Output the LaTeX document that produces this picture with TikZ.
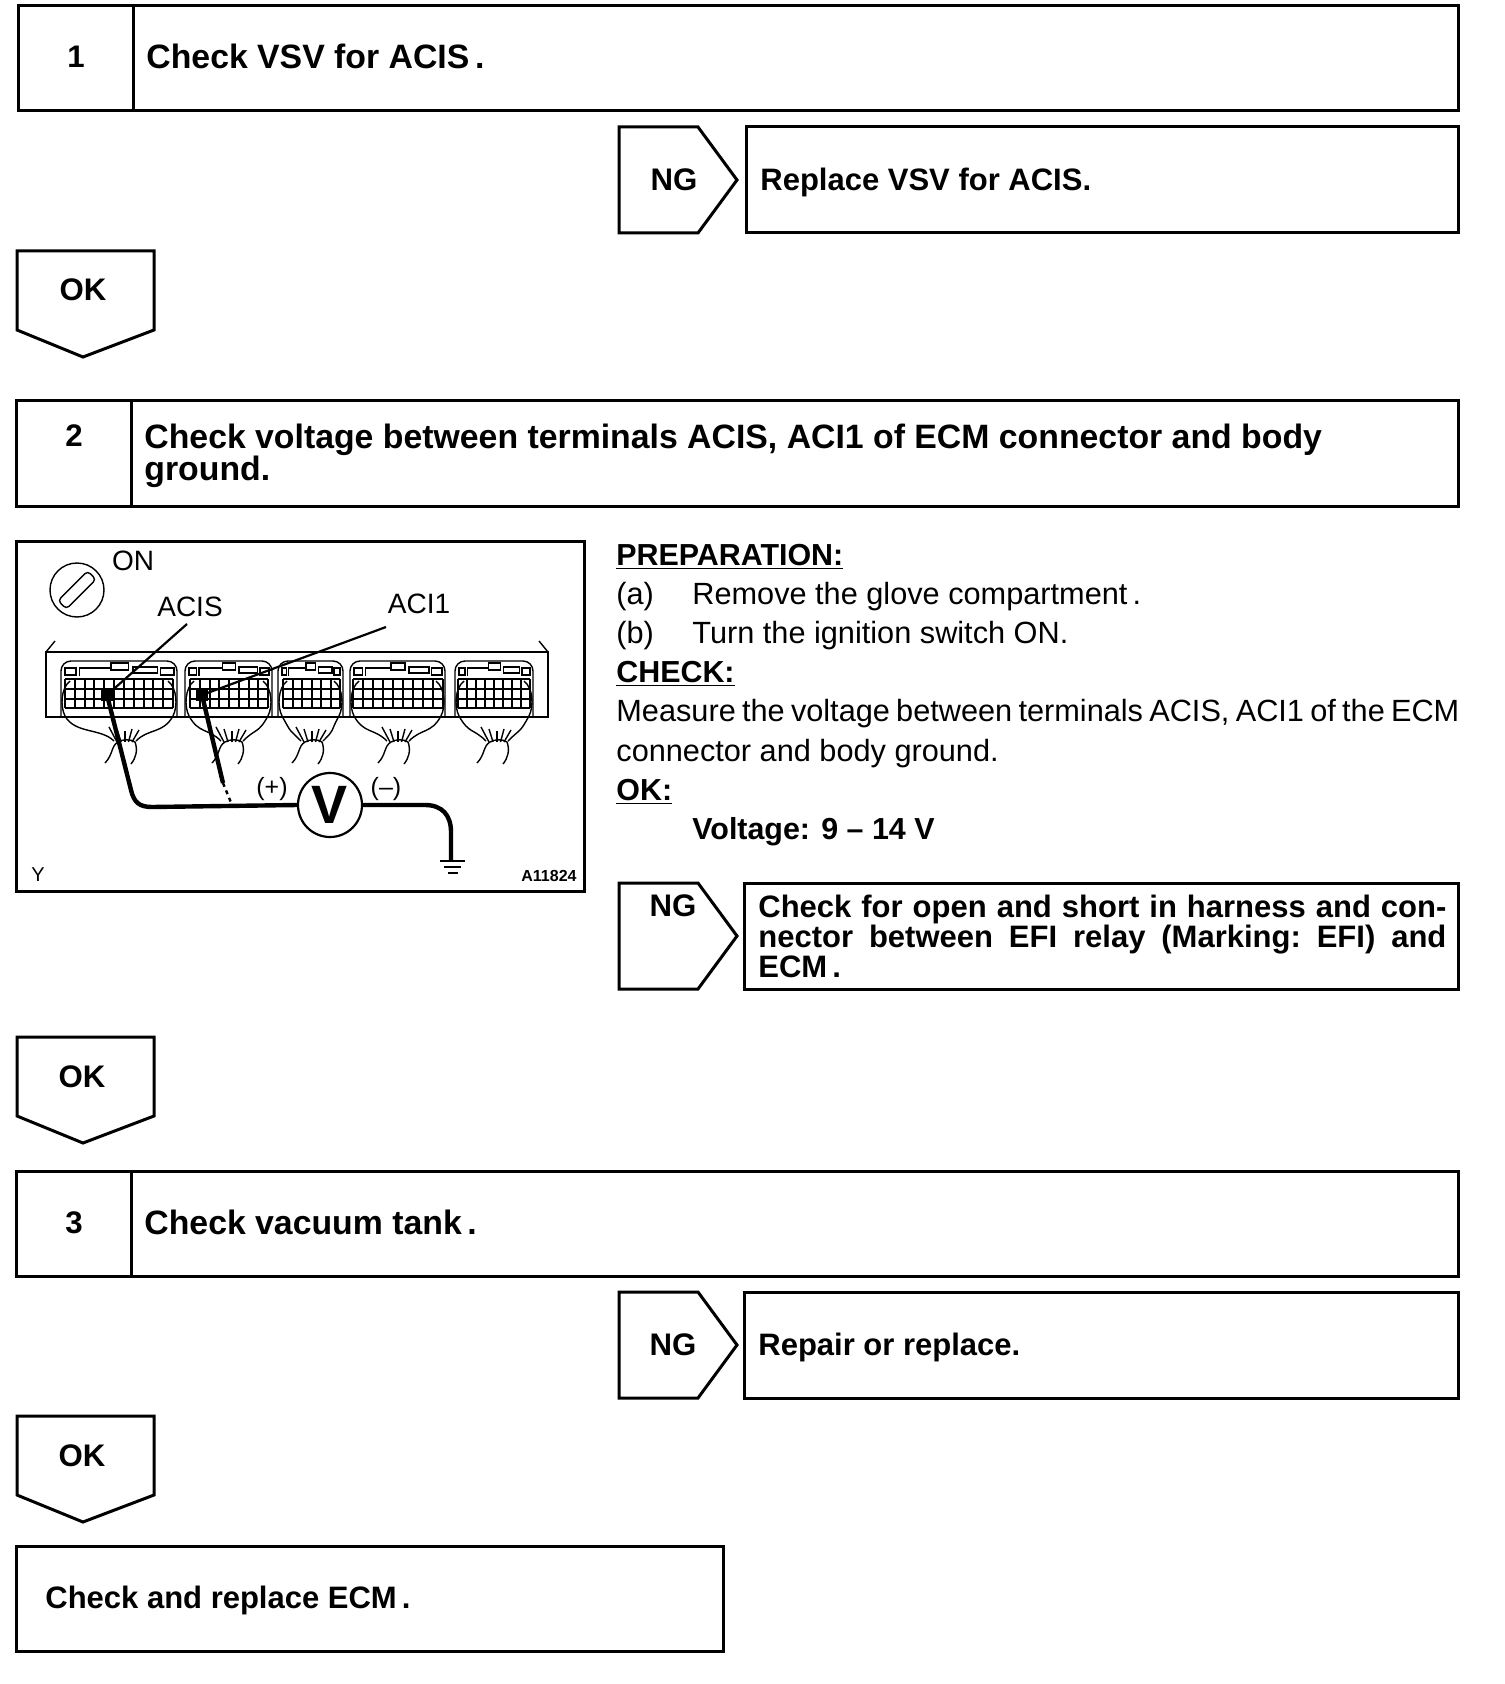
\documentclass[tikz,border=0pt]{standalone}
\usepackage{fontspec}
\setmainfont{Liberation Sans}

% one connector of the ECM: left, right, wire hub, grid left, grid right
\newcommand{\ecmplug}[5]{%
  \pgfmathsetmacro{\plugw}{#2-#1}
  \pgfmathsetmacro{\gridw}{#5-#4}
  \pgfmathsetmacro{\gridn}{int(round(\gridw/9.5))}
  \draw[plugline, rounded corners=5] (#1,716) -- (#1,661) -- (#2,661) -- (#2,716);
  \draw[plugline] (#1+9,681) .. controls (#1,688) and (#1-1,706) .. (#1+4,716)
    .. controls (#1+14,734) and (#3-24,728) .. (#3-11,741);
  \draw[plugline] (#2-9,681) .. controls (#2,688) and (#2+1,706) .. (#2-4,716)
    .. controls (#2-14,734) and (#3+24,728) .. (#3+11,741);
  \foreach \gy in {679,689,699,708}
    \draw[gridline] (#4,\gy) -- (#5,\gy);
  \foreach \gx in {0,...,\gridn}
    \draw[gridline] ({#4+\gx*\gridw/\gridn},679) -- ({#4+\gx*\gridw/\gridn},708);
  \draw[plugline] (#1+4,668) rectangle ({#1+0.13*\plugw},675);
  \draw[plugline] ({#1+0.16*\plugw},676) -- ({#1+0.16*\plugw},668) -- ({#1+0.42*\plugw},668);
  \draw[plugline] ({#1+0.43*\plugw},663) rectangle ({#1+0.58*\plugw},670);
  \draw[plugline] ({#1+0.62*\plugw},667) rectangle ({#1+0.83*\plugw},673);
  \draw[plugline] ({#1+0.86*\plugw},668) rectangle (#2-3,675);
  \foreach \fx/\fy in {-16/727, -8/729, 0/731, 7/729, 14/730}
    \draw[plugline] (#3+\fx*0.5,742) -- (#3+\fx,\fy);
  \draw[plugline] (#3-20,763) .. controls (#3-12,755) and (#3-14,746) .. (#3-7,742)
    .. controls (#3-2,739) and (#3+6,739) .. (#3+10,742)
    .. controls (#3+13,750) and (#3+11,758) .. (#3+6,764);
}
\newcommand{\spreadline}[1]{\hbox to 344pt{#1}}
\newcommand{\tightlines}{\lineskiplimit-10pt\relax}

\begin{document}
\begin{tikzpicture}[
    x=0.5pt, y=-0.5pt,
    boxline/.style={black, line width=1.5pt, line join=miter},
    plugline/.style={black, line width=0.7pt},
    gridline/.style={black, line width=1pt},
    leadline/.style={black, line width=1.1pt, line join=round},
    probe/.style={black, line width=2.2pt},
    head/.style={font=\fontsize{16.9}{16}\selectfont\bfseries, inner sep=0pt, align=left},
    fix/.style={font=\fontsize{15.5}{15}\selectfont\bfseries, inner sep=0pt, align=left},
    tag/.style={font=\fontsize{15.6}{16}\selectfont\bfseries, inner sep=0pt},
    body/.style={font=\fontsize{15.35}{18}\selectfont, inner sep=0pt, anchor=base west},
    bodyhead/.style={font=\fontsize{15.2}{18}\selectfont\bfseries, inner sep=0pt, anchor=base west},
    lbl/.style={font=\fontsize{14}{16}\selectfont, inner sep=0pt}
]
\useasboundingbox (0,0) rectangle (1504,1684);

% ---------- step boxes ----------
\draw[boxline] (18,6) rectangle (1458,111);
\draw[boxline] (133,6) -- (133,111);
\draw[boxline] (16,401) rectangle (1458,506);
\draw[boxline] (131,401) -- (131,506);
\draw[boxline] (16,1171) rectangle (1458,1276);
\draw[boxline] (131,1171) -- (131,1276);
\draw[boxline] (16,1546) rectangle (723,1651);

% ---------- result boxes ----------
\draw[boxline] (746,127) rectangle (1458,233);
\draw[boxline] (744,883) rectangle (1458,989);
\draw[boxline] (744,1292) rectangle (1458,1398);

% ---------- NG tags pointing right ----------
\foreach \ytop/\yend in {127/233, 883/989, 1292/1398}
  \draw[boxline] (619,\ytop) -- (698,\ytop) -- (737,{(\ytop+\yend)/2}) -- (698,\yend) -- (619,\yend) -- cycle;

% ---------- OK tags pointing down ----------
\foreach \ytop in {251, 1037, 1416}
  \draw[boxline] (17,\ytop) -- (154,\ytop) -- (154,\ytop+79) -- (83,\ytop+106) -- (17,\ytop+79) -- cycle;

% ---------- numbers and titles ----------
\node[tag] (numa) at (76,57) {1};
\node[tag] (numb) at (74,436) {2};
\node[tag] (numc) at (74,1223) {3};
\node[head, anchor=base west] (titlea) at (146,69) {Check VSV for ACIS\,.};
\node[head, anchor=west] (titleb) at (144,456) {Check voltage between terminals ACIS, ACI1 of ECM connector and body\\ground.};
\node[head, anchor=base west] (titlec) at (144,1234) {Check vacuum tank\,.};
\node[fix, anchor=base west] (finish) at (45,1608) {Check and replace ECM\,.};

\node[tag] (nga) at (674,180) {NG};
\node[tag] (ngb) at (673,906) {NG};
\node[tag] (ngc) at (673,1345) {NG};
\node[tag] (oka) at (83,290) {OK};
\node[tag] (okb) at (82,1077) {OK};
\node[tag] (okc) at (82,1456) {OK};

\node[fix, anchor=base west] (fixa) at (760,191) {Replace VSV for ACIS.};
\node[fix, anchor=west] (fixb) at (758,936) {\tightlines
  \spreadline{Check\hfill for\hfill open\hfill and\hfill short\hfill in\hfill harness\hfill and\hfill con-}\\
  \spreadline{nector\hfill between\hfill EFI\hfill relay\hfill (Marking:\hfill EFI)\hfill and}\\
  ECM\,.};
\node[fix, anchor=base west] (fixc) at (758,1355) {Repair or replace.};

% ---------- procedure text ----------
\node[bodyhead] (prep) at (616,565) {\underline{PREPARATION:}};
\node[body] (itema) at (616,604) {(a)};
\node[body] (texta) at (692,604) {Remove the glove compartment\,.};
\node[body] (itemb) at (616,643) {(b)};
\node[body] (textb) at (692,643) {Turn the ignition switch ON.};
\node[bodyhead] (check) at (616,682) {\underline{CHECK:}};
\node[body] (measa) at (616,721) {\hbox to 421.5pt{Measure the voltage between terminals ACIS, ACI1 of the ECM}};
\node[body] (measb) at (616,761) {connector and body ground.};
\node[bodyhead] (okhead) at (616,800) {\underline{OK:}};
\node[bodyhead] (volt) at (692,839) {Voltage: 9 -- 14 V};

% ---------- figure frame ----------
\draw[boxline] (16,541) rectangle (584,891);

% ---------- ignition switch ----------
\draw[plugline] (77,590) circle (27);
\draw[plugline, rounded corners=2, rotate around={45:(77,590)}] (56,584) rectangle (98,596);
\node[lbl] (swon) at (133,561) {ON};

% ---------- ECM body ----------
\draw[plugline, line width=0.9pt] (46,652) -- (548,652) -- (548,717) -- (46,717) -- cycle;
\draw[plugline] (46,652) -- (55,641);
\draw[plugline] (548,652) -- (539,641);
\ecmplug{61}{177}{125}{65}{173}
\ecmplug{185}{272}{232}{190}{268}
\ecmplug{278}{343}{312}{283}{340}
\ecmplug{350}{445}{398}{353}{443}
\ecmplug{455}{533}{497}{458}{530}

% ---------- leads and meter ----------
\coordinate (pina) at (107,695);
\coordinate (pinb) at (202,695);
\coordinate (gnd) at (451,861);
\node[draw, line width=1.1pt, circle, minimum size=32pt, inner sep=0pt,
      font=\fontsize{27}{27}\selectfont\bfseries] (meter) at (330,805) {V};
\node[lbl] (acis) at (190,607) {ACIS};
\node[lbl] (acia) at (419,604) {ACI1};
\draw[leadline] (187,624) -- (pina);
\draw[leadline] (386,627) -- (pinb);
\fill (pina) ++(-6,-6) rectangle ++(12,12);
\fill (pinb) ++(-6,-6) rectangle ++(12,12);
\draw[probe] (pina) -- (131,790) .. controls (134,803) and (140,807) .. (152,807) -- (meter.west);
\draw[probe] (pinb) -- (223,783);
\draw[probe, dash pattern=on 2pt off 2pt, line width=1.2pt] (223,783) -- (232,805);
\draw[probe] (meter.east) -- (425,805) .. controls (442,805) and (451,815) .. (451,832) -- (gnd);
\draw[leadline] (440,861) -- (465,861);
\draw[leadline] (444,867) -- (461,867);
\draw[leadline] (448,873) -- (458,873);
\node[lbl, font=\fontsize{12.5}{14}\selectfont] (plus) at (272,789) {(+)};
\node[lbl, font=\fontsize{12.5}{14}\selectfont] (minus) at (386,789) {(--)};
\node[lbl, font=\fontsize{10}{12}\selectfont] (corner) at (38,875) {Y};
\node[lbl, font=\fontsize{8}{10}\selectfont\bfseries] (figid) at (549,876) {A11824};

\end{tikzpicture}
\end{document}
